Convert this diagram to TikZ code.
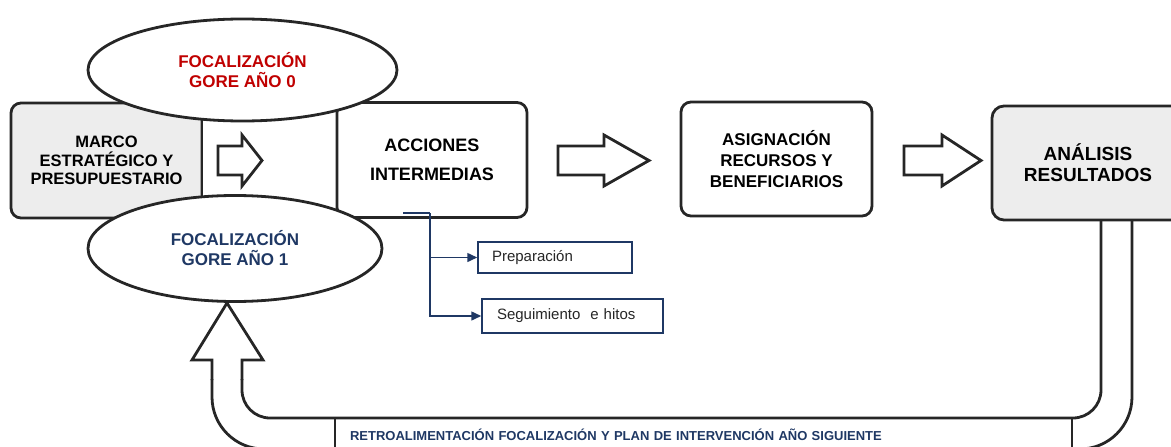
\documentclass[tikz,border=0pt]{standalone}
\usepackage{fontspec}
\setmainfont{Liberation Sans}
\usetikzlibrary{shapes.geometric,arrows.meta}
\definecolor{ink}{HTML}{262626}
\definecolor{graybox}{HTML}{EDEDED}
\definecolor{redtxt}{HTML}{C00000}
\definecolor{navy}{HTML}{1F3864}
\newcommand\blockarrow[3]{\draw[blk] (#1,146) -- (#2,146) -- (#2,135) -- (#3,160.5) -- (#2,186) -- (#2,175) -- (#1,175) -- cycle;}
\tikzset{
  blk/.style={draw=ink, line width=2.8pt, line join=miter},
  bigbox/.style={blk, rectangle, inner sep=0pt, align=center, font=\bfseries\fontsize{17}{21}\selectfont},
  oval/.style={blk, ellipse, fill=white, inner sep=0pt, align=center, font=\bfseries\fontsize{17}{20}\selectfont},
  smallbox/.style={draw=navy, line width=1.5pt, rectangle, fill=white, inner ysep=0pt, align=left, font=\fontsize{15}{18}\selectfont, text=black!85},
  conn/.style={draw=navy, line width=1.5pt},
  tip/.style={-{Triangle[length=10pt,width=9pt]}}
}
\begin{document}
\begin{tikzpicture}[x=1pt,y=-1pt]
\useasboundingbox (0,0) rectangle (1171,447);
% main boxes
\node[bigbox, fill=graybox, rounded corners=10pt, minimum width=191pt, minimum height=115pt, font=\bfseries\fontsize{16.5}{18.5}\selectfont] (marco) at (106.5,160.5) {MARCO\\ESTRATÉGICO Y\\PRESUPUESTARIO};
\node[bigbox, fill=white, minimum width=135pt, minimum height=115pt] (mid) at (269.5,160.5) {};
\node[bigbox, fill=white, rounded corners=10pt, minimum width=190pt, minimum height=115pt, font=\bfseries\fontsize{18}{29}\selectfont] (acciones) at (432,160) {ACCIONES\\INTERMEDIAS};
\node[bigbox, fill=white, rounded corners=10pt, minimum width=191pt, minimum height=114pt] (asign) at (776.5,159) {ASIGNACIÓN\\RECURSOS Y\\BENEFICIARIOS};
% feedback label box
\node[draw=ink, line width=1.3pt, rectangle, fill=white, minimum height=34pt, text width=707pt, inner xsep=15pt, inner ysep=0pt, align=left, text=navy, font=\bfseries\fontsize{13}{15}\selectfont] (retro) at (703.5,435) {RETROALIMENTACIÓN FOCALIZACIÓN Y PLAN DE INTERVENCIÓN AÑO SIGUIENTE};
% U-shaped feedback arrow
\draw[blk, rounded corners=28pt] (1101,200) -- (1101,418) -- (242,418) -- (242,379);
\draw[blk, rounded corners=52pt] (1132,200) -- (1132,449) -- (212,449) -- (212,379);
\draw[blk] (242,380) -- (242,360) -- (263,360) -- (227,303) -- (192,360) -- (212,360) -- (212,380);
\node[bigbox, fill=graybox, rounded corners=12pt, minimum width=192pt, minimum height=114pt, font=\bfseries\fontsize{19}{21}\selectfont] (analisis) at (1088,163) {ANÁLISIS\\RESULTADOS};
% ellipses
\node[oval, minimum width=309pt, minimum height=102pt, text=redtxt] (foc0) at (242.5,70) {FOCALIZACIÓN\\GORE AÑO 0};
\node[oval, minimum width=294pt, minimum height=106pt, text=navy] (foc1) at (235,248.5) {FOCALIZACIÓN\\GORE AÑO 1};
% block arrows
\blockarrow{218}{242}{262}
\blockarrow{558}{604}{649}
\blockarrow{904}{942}{981}
% sub-steps
\node[smallbox, minimum height=31pt, text width=126pt, inner xsep=14pt] (prep) at (555,257.5) {Preparación};
\node[smallbox, minimum height=34pt, text width=151pt, inner xsep=15pt] (seg) at (572.5,316) {Seguimiento~ e hitos};
\coordinate (b0) at (403,213);
\coordinate (b1) at (430,213);
\draw[conn] (b0) -- (b1);
\draw[conn, tip] (b1) |- (prep.west);
\draw[conn, tip] (b1) |- (seg.west);
\end{tikzpicture}
\end{document}
